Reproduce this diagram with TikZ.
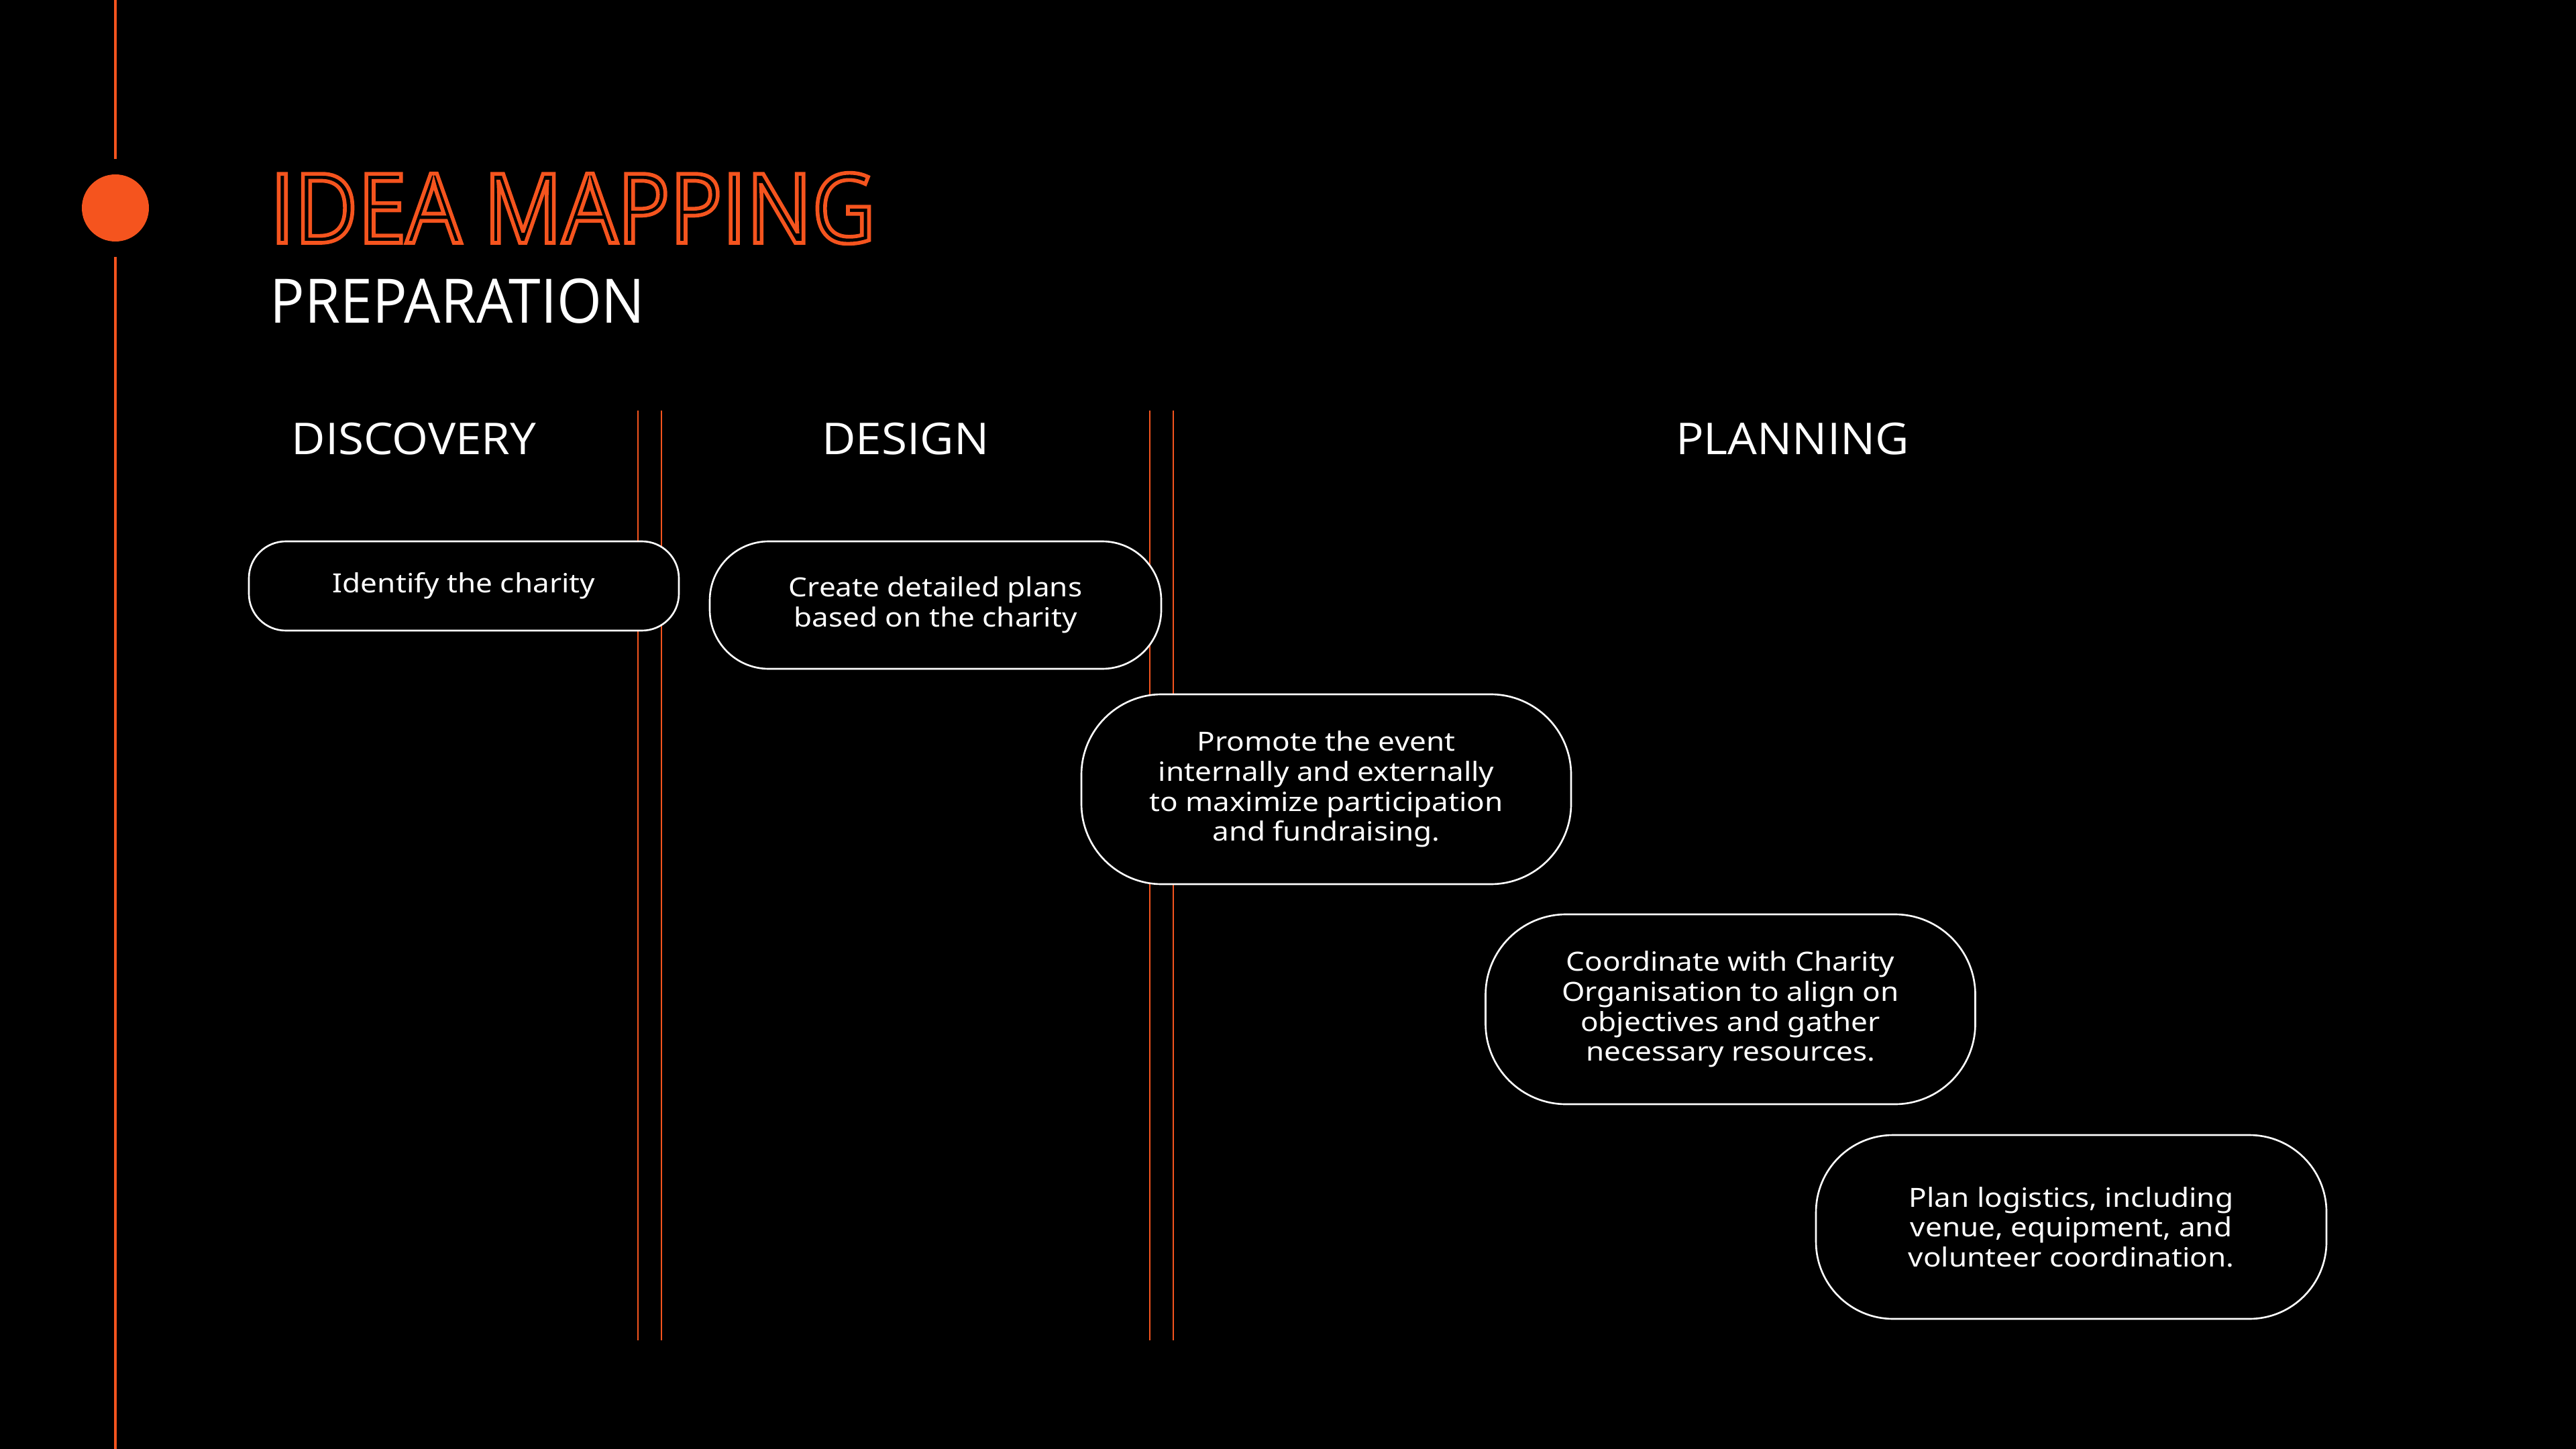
\documentclass[tikz,border=0pt]{standalone}
\usepackage{fontspec}
\setmainfont{Open Sans}
\newfontfamily\cardfont[FakeStretch=1.12]{Noto Sans}
\newfontfamily\titlefont[FakeStretch=0.90]{Open Sans}
\newfontfamily\subfont[FakeStretch=0.94]{Open Sans}
\newfontfamily\phasefont[FakeStretch=1.06]{Open Sans}
\usetikzlibrary{positioning}
\definecolor{ember}{RGB}{245,84,30}
% hollow letters: stroke only
\newcommand{\hollow}[1]{\special{pdf:literal direct 1 Tr 1.6 w}#1\special{pdf:literal direct 0 Tr}}
\tikzset{
  card/.style={draw=white, fill=black, line width=0.75pt, align=center,
    text=white, inner sep=0pt, font=\cardfont\fontsize{11.2}{12.7}\selectfont},
  phase/.style={text=white, anchor=base, inner sep=0pt,
    font=\phasefont\fontsize{18.6}{20}\selectfont},
  spine/.style={draw=ember, line width=1.15pt},
  split/.style={draw=ember, line width=0.6pt}
}

\begin{document}
\begin{tikzpicture}
  % canvas
  \fill[black] (0,0) rectangle (38.4,-21.6);
  \useasboundingbox (0,0) rectangle (38.4,-21.6);

  % timeline spine
  \node[circle, fill=ember, minimum size=1.0cm, inner sep=0pt] (dot) at (1.72,-3.10) {};
  \draw[spine] (1.72,0) -- ([yshift=2.2mm]dot.north);
  \draw[spine] ([yshift=-2.2mm]dot.south) -- (1.72,-21.6);

  % title
  \node[anchor=base west, inner sep=0pt, text=ember,
    font=\titlefont\fontsize{41}{44}\selectfont] (title) at (4.02,-3.62)
    {\hollow{IDEA MAPPING}};
  \node[anchor=base west, inner sep=0pt, text=white,
    font=\subfont\fontsize{26}{28}\selectfont] (sub) at (4.02,-4.82) {PREPARATION};

  % phase dividers
  \foreach \x in {9.51,9.86,17.14,17.49}
    \draw[split] (\x,-6.12) -- (\x,-19.98);

  % phase headers
  \node[phase] (disc) at (6.17,-6.77) {DISCOVERY};
  \node[phase] (dsgn) at (13.50,-6.77) {DESIGN};
  \node[phase] (plan) at (26.72,-6.77) {PLANNING};

  % steps
  \node[card, minimum width=6.41cm, minimum height=1.33cm, rounded corners=0.55cm]
    (ident) at (6.915,-8.735) {Identify the charity};
  \node[card, minimum width=6.73cm, minimum height=1.90cm, rounded corners=0.88cm]
    (create) at (13.945,-9.02) {Create detailed plans\\based on the charity};
  \node[card, minimum width=7.30cm, minimum height=2.83cm, rounded corners=1.20cm]
    (promo) at (19.77,-11.765) {Promote the event\\internally and externally\\to maximize participation\\and fundraising.};
  \node[card, minimum width=7.30cm, minimum height=2.83cm, rounded corners=1.20cm]
    (coord) at (25.795,-15.045) {Coordinate with Charity\\Organisation to align on\\objectives and gather\\necessary resources.};
  \node[card, minimum width=7.61cm, minimum height=2.74cm, rounded corners=1.15cm]
    (logis) at (30.875,-18.29) {Plan logistics, including\\venue, equipment, and\\volunteer coordination.};
\end{tikzpicture}
\end{document}
